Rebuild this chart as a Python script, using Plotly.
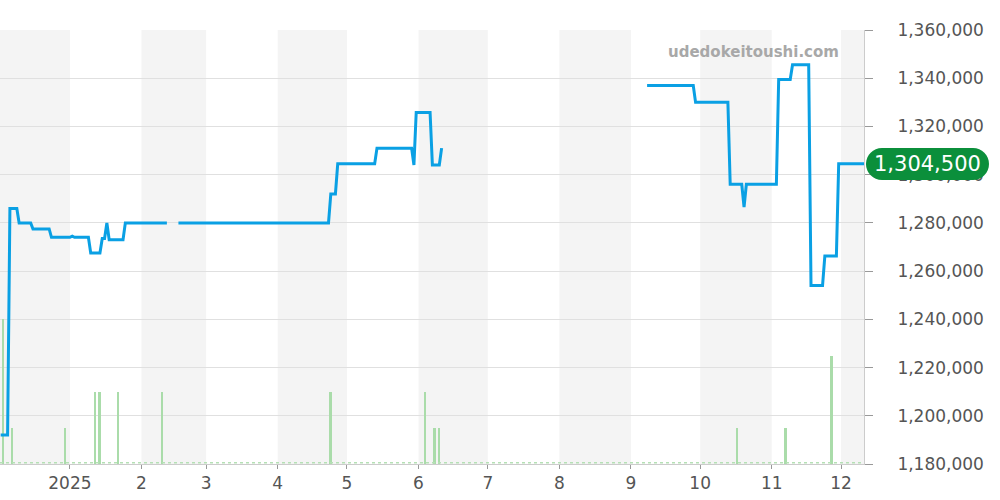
import plotly.graph_objects as go
from datetime import datetime

# ---------------- data ----------------
price_dates = [
    "2024-12-02", "2024-12-05", "2024-12-06", "2024-12-09", "2024-12-10",
    "2024-12-15", "2024-12-16", "2024-12-23", "2024-12-24", "2025-01-01",
    "2025-01-02", "2025-01-03", "2025-01-09", "2025-01-10", "2025-01-14",
    "2025-01-15", "2025-01-16", "2025-01-17", "2025-01-18", "2025-01-24",
    "2025-01-25", "2025-02-12", "2025-02-14", "2025-02-17", "2025-04-23",
    "2025-04-24", "2025-04-26", "2025-04-27", "2025-05-13", "2025-05-14",
    "2025-05-29", "2025-05-30", "2025-05-31", "2025-06-06", "2025-06-07",
    "2025-06-10", "2025-06-11", "2025-07-20", "2025-09-08", "2025-09-28",
    "2025-09-29", "2025-10-13", "2025-10-14", "2025-10-19", "2025-10-20",
    "2025-10-21", "2025-11-03", "2025-11-04", "2025-11-09", "2025-11-10",
    "2025-11-17", "2025-11-18", "2025-11-23", "2025-11-24", "2025-11-29",
    "2025-11-30", "2025-12-11",
]
price_values = [
    1192000, 1192000, 1286000, 1286000, 1280000,
    1280000, 1277500, 1277500, 1274000, 1274000,
    1274500, 1274000, 1274000, 1267500, 1267500,
    1273500, 1273500, 1280000, 1273000, 1273000,
    1280000, 1280000, None, 1280000, 1280000,
    1292000, 1292000, 1304500, 1304500, 1311000,
    1311000, 1304000, 1325800, 1325800, 1304000,
    1304000, 1311000, None, 1337000, 1337000,
    1330000, 1330000, 1296000, 1296000, 1286500,
    1296000, 1296000, 1339500, 1339500, 1345600,
    1345600, 1254000, 1254000, 1266300, 1266300,
    1304500, 1304500,
]

volume_dates = [
    "2024-12-03", "2024-12-07", "2024-12-30", "2025-01-12", "2025-01-14",
    "2025-01-22", "2025-02-10", "2025-04-24", "2025-06-04", "2025-06-08",
    "2025-06-10", "2025-10-17", "2025-11-07", "2025-11-27",
]
volume_values = [4, 1, 1, 2, 2, 2, 2, 2, 2, 1, 1, 1, 1, 3]

month_ticks = [
    "2025-01-01", "2025-02-01", "2025-03-01", "2025-04-01", "2025-05-01",
    "2025-06-01", "2025-07-01", "2025-08-01", "2025-09-01", "2025-10-01",
    "2025-11-01", "2025-12-01",
]
month_labels = ["2025", "2", "3", "4", "5", "6", "7", "8", "9", "10", "11", "12"]
shaded_months = ["2024-12-01", "2025-02-01", "2025-04-01", "2025-06-01",
                 "2025-08-01", "2025-10-01", "2025-12-01"]
price_ticks = [1180000, 1200000, 1220000, 1240000, 1260000, 1280000,
               1300000, 1320000, 1340000, 1360000]
latest_price = 1304500
watermark = "udedokeitoushi.com"

# ---------------- layout constants ----------------
W, H = 1000, 500
ML, MR, MT, MB = 0, 136, 30, 36
PW, PH = W - ML - MR, H - MT - MB
FONT = "DejaVu Sans"
x_range = ["2024-12-01 17:00", "2025-12-10 23:00"]


def px_to_paper(x, y):
    return (x - ML) / PW, (H - MB - y) / PH


def next_month(d):
    dt = datetime.strptime(d, "%Y-%m-%d")
    y, m = dt.year + (dt.month // 12), dt.month % 12 + 1
    return f"{y:04d}-{m:02d}-01"


fig = go.Figure()

fig.add_trace(go.Bar(
    x=volume_dates, y=volume_values, yaxis="y",
    width=86400000 * 0.85,
    marker=dict(color="#aadcaa", line=dict(width=0)),
    hoverinfo="skip", showlegend=False,
))

fig.add_trace(go.Scatter(
    x=price_dates, y=price_values, yaxis="y2", mode="lines",
    connectgaps=False,
    line=dict(color="#0aa0e4", width=3),
    showlegend=False,
))

shapes = []
for m in shaded_months:
    shapes.append(dict(type="rect", xref="x", yref="paper", x0=m, x1=next_month(m),
                       y0=0, y1=1, fillcolor="#f4f4f4", line=dict(width=0), layer="below"))

# dotted green baseline along the bottom
shapes.append(dict(type="line", xref="paper", yref="paper", x0=0, x1=1, y0=0.003, y1=0.003,
                   line=dict(color="#b5e0b5", width=1.5, dash="dot"), layer="above"))

# pill badge for latest price
bx0, bx1, by0, by1 = 866, 989, 148, 180
r = (by1 - by0) / 2
cy = (by0 + by1) / 2
k = 0.5523 * r
pts = [
    ("M", [(bx0 + r, by0)]),
    ("L", [(bx1 - r, by0)]),
    ("C", [(bx1 - r + k, by0), (bx1, cy - k), (bx1, cy)]),
    ("C", [(bx1, cy + k), (bx1 - r + k, by1), (bx1 - r, by1)]),
    ("L", [(bx0 + r, by1)]),
    ("C", [(bx0 + r - k, by1), (bx0, cy + k), (bx0, cy)]),
    ("C", [(bx0, cy - k), (bx0 + r - k, by0), (bx0 + r, by0)]),
]
path = ""
for cmd, ps in pts:
    path += cmd + " ".join(f"{px_to_paper(a, b)[0]:.5f},{px_to_paper(a, b)[1]:.5f}" for a, b in ps) + " "
path += "Z"
shapes.append(dict(type="path", xref="paper", yref="paper", path=path,
                   fillcolor="#0b8f3b", line=dict(width=0), layer="above"))

bcx, bcy = px_to_paper((bx0 + bx1) / 2, cy)
annotations = [
    dict(text=f"{latest_price:,}", xref="paper", yref="paper", x=bcx, y=bcy,
         xanchor="center", yanchor="middle", showarrow=False,
         font=dict(family=FONT, size=21, color="white")),
    dict(text=watermark, xref="paper", yref="paper",
         x=px_to_paper(841, 52)[0], y=px_to_paper(841, 52)[1],
         xanchor="right", yanchor="middle", showarrow=False,
         font=dict(family=FONT, size=15, color="#a8a8a8", weight="bold")),
]

fig.update_layout(
    width=W, height=H,
    margin=dict(l=ML, r=MR, t=MT, b=MB, pad=0),
    paper_bgcolor="white", plot_bgcolor="white",
    bargap=0,
    shapes=shapes, annotations=annotations,
    showlegend=False,
    xaxis=dict(
        type="date", range=x_range,
        tickvals=month_ticks, ticktext=month_labels,
        ticks="outside", ticklen=4, tickcolor="#999999",
        showgrid=False, zeroline=False,
        showline=True, linecolor="#cccccc", linewidth=1,
        tickfont=dict(family=FONT, size=17, color="#555555"),
    ),
    yaxis=dict(range=[0, 12], visible=False, fixedrange=True),
    yaxis2=dict(
        overlaying="y", side="right", range=[1180000, 1360000],
        tickvals=price_ticks, tickformat=",",
        showgrid=True, gridcolor="#e0e0e0", gridwidth=1, zeroline=False,
        ticks="outside", ticklen=8, tickcolor="#999999",
        showline=True, linecolor="#cccccc", linewidth=1,
        ticklabelstandoff=21,
        tickfont=dict(family=FONT, size=17, color="#555555"),
    ),
)

fig.write_html("out.html", config={"displayModeBar": False},
               post_script="document.body.style.margin='0';")
